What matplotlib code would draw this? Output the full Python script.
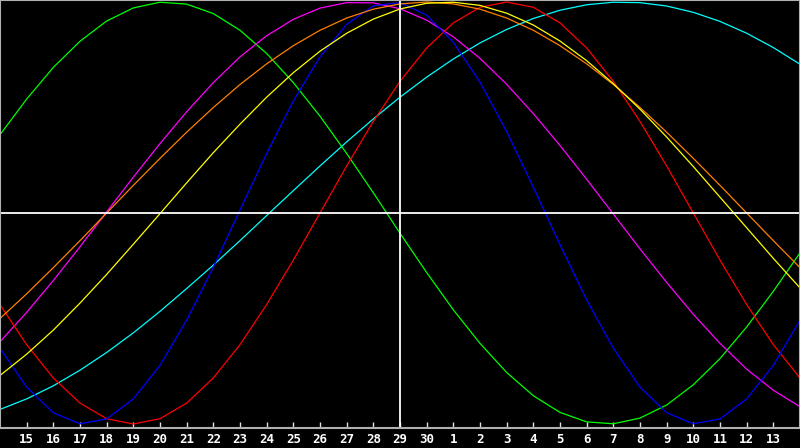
import matplotlib
matplotlib.use("Agg")
import matplotlib.pyplot as plt

# day labels along the bottom (index 1..29), 30-day window
day_labels = ["15", "16", "17", "18", "19", "20", "21", "22", "23", "24", "25",
              "26", "27", "28", "29", "30", "1", "2", "3", "4", "5", "6", "7",
              "8", "9", "10", "11", "12", "13"]
days = list(range(31))

# biorhythm cycle values (-1 .. 1), one per day
physical = [-0.641, -0.825, -0.947, -0.999, -0.976, -0.881, -0.722, -0.508,
            -0.257, 0.014, 0.282, 0.531, 0.740, 0.894, 0.982, 0.997, 0.938,
            0.809, 0.620, 0.386, 0.122, -0.150, -0.412, -0.641, -0.825,
            -0.947, -0.999, -0.976, -0.881, -0.722, -0.508]
emotional = [-0.434, -0.624, -0.782, -0.901, -0.975, -1.0, -0.975, -0.901,
             -0.782, -0.624, -0.434, -0.223, 0.0, 0.223, 0.434, 0.624, 0.782,
             0.901, 0.975, 1.0, 0.975, 0.901, 0.782, 0.624, 0.434, 0.223, 0.0,
             -0.223, -0.434, -0.624, -0.782]
intellectual = [0.371, 0.540, 0.690, 0.814, 0.910, 0.972, 0.999, 0.990, 0.945,
                0.866, 0.756, 0.618, 0.459, 0.282, 0.096, -0.096, -0.282,
                -0.459, -0.618, -0.756, -0.866, -0.945, -0.990, -0.999,
                -0.972, -0.910, -0.814, -0.690, -0.540, -0.371, -0.189]
intuitive = [-0.610, -0.471, -0.320, -0.160, 0.005, 0.170, 0.329, 0.480,
             0.618, 0.740, 0.840, 0.918, 0.971, 0.997, 0.996, 0.968, 0.914,
             0.835, 0.733, 0.610, 0.471, 0.320, 0.160, -0.005, -0.170,
             -0.329, -0.480, -0.618, -0.740, -0.840, -0.918]
aesthetic = [-0.770, -0.669, -0.555, -0.427, -0.291, -0.148, -0.003, 0.143,
             0.286, 0.421, 0.549, 0.665, 0.767, 0.852, 0.919, 0.967, 0.994,
             0.999, 0.984, 0.947, 0.891, 0.815, 0.722, 0.613, 0.492, 0.360,
             0.220, 0.075, -0.070, -0.215, -0.355]
awareness = [-0.5, -0.383, -0.259, -0.131, 0.0, 0.131, 0.259, 0.383, 0.5,
             0.609, 0.707, 0.793, 0.866, 0.924, 0.966, 0.991, 1.0, 0.991,
             0.966, 0.924, 0.866, 0.793, 0.707, 0.609, 0.5, 0.383, 0.259,
             0.131, 0.0, -0.131, -0.259]
spiritual = [-0.931, -0.881, -0.819, -0.745, -0.661, -0.568, -0.466, -0.358,
             -0.247, -0.131, -0.012, 0.106, 0.223, 0.337, 0.446, 0.549, 0.644,
             0.730, 0.806, 0.870, 0.922, 0.961, 0.987, 0.999, 0.997, 0.981,
             0.951, 0.908, 0.852, 0.784, 0.705]
today = 15

fig = plt.figure(figsize=(8, 4.48), dpi=100, facecolor="black")
ax = fig.add_axes([0, 20 / 448, 1, 428 / 448], facecolor="black")

lw = 0.9
ax.plot(days, spiritual, color="#00ffff", lw=lw)
ax.plot(days, intellectual, color="#00ff00", lw=lw)
ax.plot(days, intuitive, color="#ff00ff", lw=lw)
ax.plot(days, emotional, color="#ff0000", lw=lw)
ax.plot(days, physical, color="#0000ff", lw=lw)
ax.plot(days, awareness, color="#ff8000", lw=lw)
ax.plot(days, aesthetic, color="#ffff00", lw=lw)

ax.axhline(0, color="white", lw=1.3)
ax.axvline(today, color="white", lw=1.3)

ax.set_xlim(0, 30)
ax.set_ylim(-1.019, 1.0095)

for s in ax.spines.values():
    s.set_color("#b0b0b0")
    s.set_linewidth(1.5)

ax.set_yticks([])
ax.set_xticks(range(1, 30))
ax.set_xticklabels(day_labels, family="DejaVu Sans Mono", fontweight="bold",
                   fontsize=9, color="white")
ax.tick_params(axis="x", direction="in", length=4, width=1, color="#e0e0e0", pad=3.5)

fig.savefig("out.png", dpi=100, facecolor="black")
